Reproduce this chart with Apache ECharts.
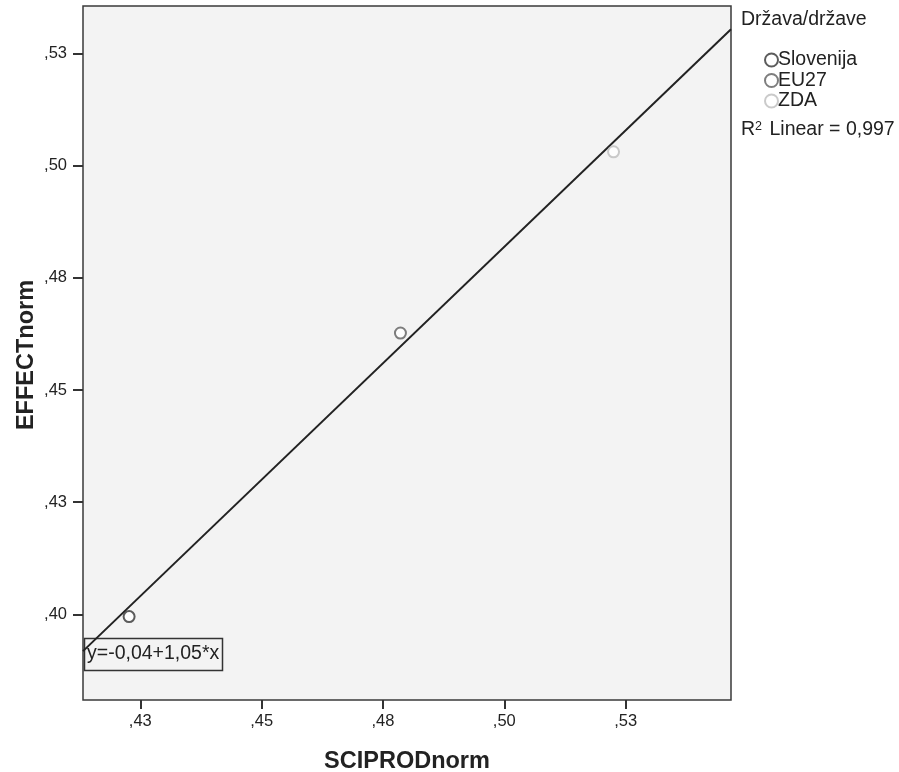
<!DOCTYPE html>
<html>
<head>
<meta charset="utf-8">
<script src="https://cdn.jsdelivr.net/npm/echarts@6/dist/echarts.min.js"></script>
<style>
  html, body { margin: 0; padding: 0; background: #fff; }
  #chart { width: 899px; height: 772px; }
</style>
</head>
<body>
<div id="chart"></div>
<script>
// values
const countries = ["Slovenija", "EU27", "ZDA"];
const sciprod = [0.4227, 0.4786, 0.5225];
const effect = [0.3995, 0.4627, 0.5031];
const pointColors = ["#333333", "#5e5e5e", "#bdbdbd"];

// fit line end points (at the plot edges)
const fitX = [0.4132, 0.5467];
const fitY = [0.3918, 0.5304];

const xTicks = [0.425, 0.45, 0.475, 0.5, 0.525];
const xTickLabels = [",43", ",45", ",48", ",50", ",53"];
const yTicks = [0.4, 0.425, 0.45, 0.475, 0.5, 0.525];
const yTickLabels = [",40", ",43", ",45", ",48", ",50", ",53"];

const FONT = "Liberation Sans";

var myChart = echarts.init(document.getElementById("chart"));

const labelFor = (ticks, labels) => (v) => {
  const i = ticks.findIndex((t) => Math.abs(t - v) < 1e-6);
  return i >= 0 ? labels[i] : "";
};

var option = {
  animation: false,
  textStyle: { fontFamily: FONT },
  grid: {
    left: 83,
    right: 168,
    top: 6,
    bottom: 72,
    outerBoundsMode: "none",
    containLabel: false,
    show: true,
    backgroundColor: "#f3f3f3",
    borderColor: "#3a3a3a",
    borderWidth: 1.5,
  },
  legend: {
    orient: "vertical",
    left: 759,
    top: 45,
    data: countries,
    icon: "emptyCircle",
    itemWidth: 13,
    itemHeight: 13,
    itemGap: 0.5,
    textStyle: { fontSize: 19.5, lineHeight: 20, color: "#222", fontFamily: FONT, padding: [0, 0, 0, -5] },
  },
  xAxis: {
    type: "value",
    min: fitX[0],
    max: fitX[1],
    name: "SCIPRODnorm",
    nameLocation: "middle",
    nameGap: 50,
    nameTextStyle: { fontSize: 23.5, fontWeight: "bold", color: "#222", fontFamily: FONT },
    axisLine: { show: false },
    splitLine: { show: false },
    axisTick: {
      show: true,
      customValues: xTicks,
      length: 9,
      lineStyle: { color: "#333", width: 2 },
    },
    axisLabel: {
      customValues: xTicks,
      formatter: labelFor(xTicks, xTickLabels),
      fontSize: 16.5,
      color: "#222",
      margin: 13,
    },
  },
  yAxis: {
    type: "value",
    min: 0.3809,
    max: 0.5356,
    axisLine: { show: false },
    splitLine: { show: false },
    axisTick: {
      show: true,
      customValues: yTicks,
      length: 10,
      lineStyle: { color: "#333", width: 2 },
    },
    axisLabel: {
      customValues: yTicks,
      formatter: labelFor(yTicks, yTickLabels),
      fontSize: 16.5,
      color: "#222",
      margin: 16,
    },
  },
  series: [
    {
      name: "fit",
      type: "line",
      data: fitX.map((x, i) => [x, fitY[i]]),
      showSymbol: false,
      lineStyle: { color: "#222", width: 2 },
      silent: true,
      z: 2,
    },
  ].concat(
    countries.map((c, i) => ({
      name: c,
      type: "scatter",
      symbol: "emptyCircle",
      symbolSize: 11,
      data: [[sciprod[i], effect[i]]],
      itemStyle: { color: pointColors[i], borderColor: pointColors[i], borderWidth: 1.8 },
      z: 3,
    }))
  ),
  graphic: [
    {
      // y axis title
      type: "text",
      x: 27,
      y: 355,
      rotation: Math.PI / 2,
      style: {
        text: "EFFECTnorm",
        fill: "#222",
        font: "bold 23.5px " + FONT,
        align: "center",
        verticalAlign: "middle",
      },
    },
    {
      type: "text",
      left: 741,
      top: 10,
      style: { text: "Država/države", fill: "#222", font: "19.5px " + FONT },
    },
    {
      type: "text",
      left: 741,
      top: 120,
      style: {
        text: "R{s|2} Linear = 0,997",
        fill: "#222",
        font: "19.5px " + FONT,
        rich: { s: { fontSize: 12.5, verticalAlign: "top", padding: [0, 2, 7, 0], fontFamily: FONT } },
      },
    },
    {
      type: "rect",
      shape: { x: 84.5, y: 638.5, width: 138, height: 32 },
      style: { fill: "#f3f3f3", stroke: "#333", lineWidth: 1.5 },
      z: 1,
    },
    {
      type: "text",
      left: 87,
      top: 644,
      z: 1,
      style: { text: "y=-0,04+1,05*x", fill: "#222", font: "19.5px " + FONT },
    },
  ],
};

option && myChart.setOption(option);
</script>
</body>
</html>
